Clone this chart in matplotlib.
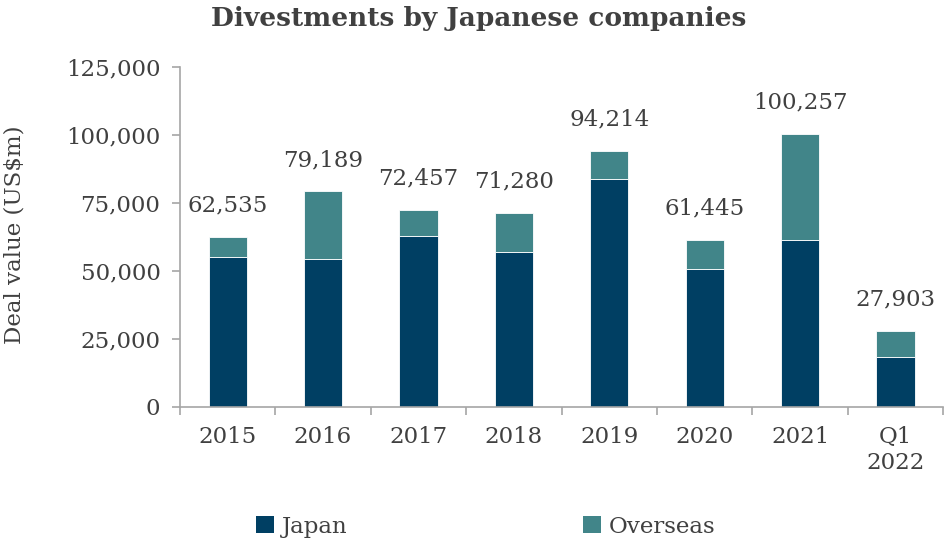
import matplotlib
matplotlib.use("Agg")
import matplotlib.pyplot as plt
from matplotlib.ticker import FuncFormatter, FixedLocator
from matplotlib.patches import Patch
import numpy as np

categories = ["2015", "2016", "2017", "2018", "2019", "2020", "2021", "Q1\n2022"]
totals = [62535, 79189, 72457, 71280, 94214, 61445, 100257, 27903]
japan = [55100, 54300, 62700, 56900, 83800, 50700, 61300, 18400]
overseas = [t - j for t, j in zip(totals, japan)]

c_japan = "#003F63"
c_over = "#418589"
txt = "#404040"
axc = "#A6A6A6"
fs = 16.5

plt.rcParams["font.family"] = ["DejaVu Serif"]

fig = plt.figure(figsize=(9.47, 5.42), dpi=100)
ax = fig.add_axes([0.190, 0.2496, 0.806, 0.627])

x = np.arange(len(categories))
ax.bar(x, japan, width=0.4, color=c_japan, edgecolor="white", linewidth=0.6)
ax.bar(x, overseas, bottom=japan, width=0.4, color=c_over, edgecolor="white", linewidth=0.6)

for xi, t in zip(x, totals):
    ax.text(xi, t + 7500, f"{t:,}", ha="center", va="bottom", fontsize=fs, color=txt)

ax.set_xlim(-0.5, len(categories) - 0.5)
ax.set_ylim(0, 125000)
ax.set_yticks(np.arange(0, 125001, 25000))
ax.yaxis.set_major_formatter(FuncFormatter(lambda v, p: f"{int(v):,}"))
ax.set_xticks(x)
ax.set_xticklabels(categories)
ax.xaxis.set_minor_locator(FixedLocator(np.arange(-0.5, len(categories), 1.0)))
ax.tick_params(axis="x", which="major", length=0, pad=14, labelsize=fs, labelcolor=txt)
ax.tick_params(axis="x", which="minor", length=6, color=axc, width=1.2)
ax.tick_params(axis="y", which="major", length=6, color=axc, width=1.2, pad=8, labelsize=fs, labelcolor=txt)

for s in ["top", "right"]:
    ax.spines[s].set_visible(False)
for s in ["left", "bottom"]:
    ax.spines[s].set_color(axc)
    ax.spines[s].set_linewidth(1.2)

ax.set_ylabel("Deal value (US$m)", fontsize=fs, color=txt)
ax.yaxis.set_label_coords(-0.202, 0.505)

fig.text(0.506, 0.965, "Divestments by Japanese companies", ha="center", va="center",
         fontsize=19, fontweight="bold", color=txt)

handles = [Patch(facecolor=c_japan, label="Japan"), Patch(facecolor=c_over, label="Overseas")]
fig.legend(handles=handles, loc="center", bbox_to_anchor=(0.513, 0.028), ncol=2,
           frameon=False, fontsize=fs, labelcolor=txt, columnspacing=10.3,
           handlelength=0.75, handleheight=0.75, handletextpad=0.35)

fig.savefig("out.png", dpi=100)
